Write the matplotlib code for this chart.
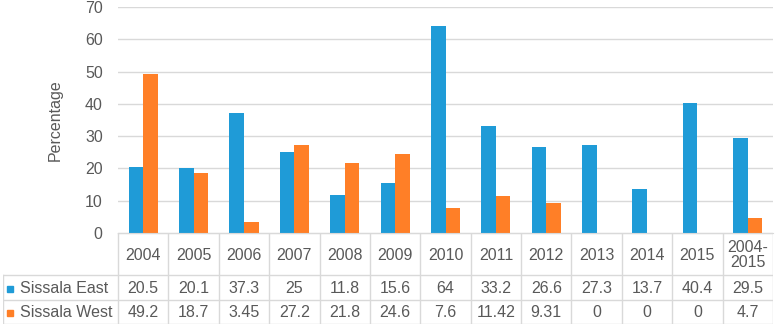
import numpy as np
import matplotlib.pyplot as plt

plt.rcParams['font.family'] = ['Liberation Sans', 'DejaVu Sans']

# chart data
years = ['2004', '2005', '2006', '2007', '2008', '2009', '2010', '2011',
         '2012', '2013', '2014', '2015', '2004-\n2015']
east = [20.5, 20.1, 37.3, 25, 11.8, 15.6, 64, 33.2, 26.6, 27.3, 13.7, 40.4, 29.5]
west = [49.2, 18.7, 3.45, 27.2, 21.8, 24.6, 7.6, 11.42, 9.31, 0, 0, 0, 4.7]
east_txt = ['20.5', '20.1', '37.3', '25', '11.8', '15.6', '64', '33.2', '26.6', '27.3', '13.7', '40.4', '29.5']
west_txt = ['49.2', '18.7', '3.45', '27.2', '21.8', '24.6', '7.6', '11.42', '9.31', '0', '0', '0', '4.7']
series_names = ['Sissala East', 'Sissala West']

c_east = '#1F9BD7'
c_west = '#FF7F27'
txt_col = '#595959'
grid_col = '#D9D9D9'
fs = 11.5

W, H = 775, 326
fig = plt.figure(figsize=(W/100, H/100), dpi=100)

# main plot area in pixels
px_l, px_r, px_top, px_zero = 118, 773, 7, 233
ax = fig.add_axes([px_l/W, 1 - px_zero/H, (px_r-px_l)/W, (px_zero-px_top)/H])

x = np.arange(len(years))
bw = 0.29
ax.bar(x - bw/2, east, bw, color=c_east, label=series_names[0])
ax.bar(x + bw/2, west, bw, color=c_west, label=series_names[1])
ax.set_xlim(-0.5, len(years) - 0.5)
ax.set_ylim(0, 70)
ax.set_yticks(range(0, 71, 10))
ax.yaxis.grid(True, color=grid_col, linewidth=1)
ax.set_axisbelow(True)
for s in ['left', 'right', 'top']:
    ax.spines[s].set_visible(False)
ax.spines['bottom'].set_color(grid_col)
ax.tick_params(axis='y', length=0, labelsize=fs, labelcolor=txt_col, pad=11)
ax.tick_params(axis='x', length=0, labelbottom=False)
ax.set_ylabel('Percentage', fontsize=fs, color=txt_col, labelpad=16)

# data table below the axis
px_tl, px_bot = 3, 324
unit = (px_r - px_l) / len(years)
ext = (px_l - px_tl) / unit
tax = fig.add_axes([px_tl/W, 1 - px_bot/H, (px_r-px_tl)/W, (px_bot-px_zero)/H])
tax.set_xlim(-0.5 - ext, len(years) - 0.5)
tax.set_ylim(px_bot, px_zero)  # pixel rows, top at axis line
tax.axis('off')

y_head, y_r1, y_r2 = 275, 300, px_bot - 0.5
lw = 1
# horizontal lines
tax.plot([-0.5, len(years) - 0.5], [px_zero, px_zero], color=grid_col, lw=lw)
for yy in [y_head, y_r1, y_r2]:
    tax.plot([-0.5 - ext, len(years) - 0.5], [yy, yy], color=grid_col, lw=lw)
# vertical lines
for i in range(len(years) + 1):
    tax.plot([i - 0.5, i - 0.5], [px_zero, y_r2], color=grid_col, lw=lw)
tax.plot([-0.5 - ext, -0.5 - ext], [y_head, y_r2], color=grid_col, lw=lw)

for i in range(len(years)):
    tax.text(i, (px_zero + y_head)/2 + 1, years[i], ha='center', va='center',
             fontsize=fs, color=txt_col, linespacing=1.0)
    tax.text(i, (y_head + y_r1)/2 + 1, east_txt[i], ha='center', va='center',
             fontsize=fs, color=txt_col)
    tax.text(i, (y_r1 + y_r2)/2 + 1, west_txt[i], ha='center', va='center',
             fontsize=fs, color=txt_col)

# legend keys in the row headers
key_x = -0.5 - ext + 0.14
for yy, col, name in [((y_head + y_r1)/2 + 1, c_east, series_names[0]),
                      ((y_r1 + y_r2)/2 + 1, c_west, series_names[1])]:
    tax.plot([key_x], [yy], marker='s', markersize=4.5, color=col, linestyle='none')
    tax.text(key_x + 0.2, yy, name, ha='left', va='center', fontsize=fs, color=txt_col)

fig.savefig('out.png', dpi=100, facecolor='white')
